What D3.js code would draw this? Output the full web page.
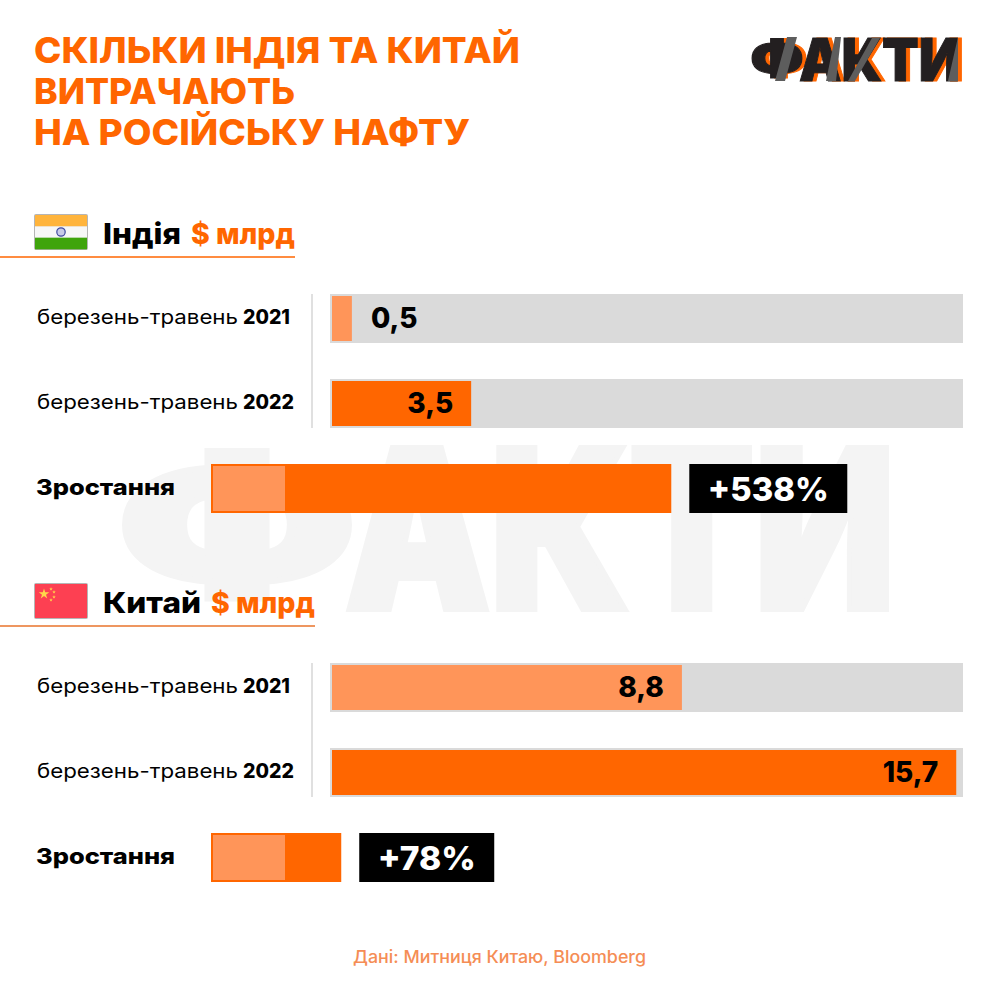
<!DOCTYPE html>
<html>
<head>
<meta charset="utf-8">
<script src="https://cdn.jsdelivr.net/npm/d3@7"></script>
<style>
html,body{margin:0;padding:0;background:#fff}
svg{display:block}
text{font-family:Inter,"Noto Sans",sans-serif}
</style>
</head>
<body>
<div id="chart"></div>
<script>
// donnees
const titleLines = ["СКІЛЬКИ ІНДІЯ ТА КИТАЙ", "ВИТРАЧАЮТЬ", "НА РОСІЙСЬКУ НАФТУ"];
const periodLabel = "березень-травень";
const years = ["2021", "2022"];
const countries = ["Індія", "Китай"];
const unitLabel = "$ млрд";
const indiaValues = [0.5, 3.5];
const chinaValues = [8.8, 15.7];
const growthLabel = "Зростання";
const growthBase = 100;           // longueur de la partie claire
const growthTotals = [622, 176];  // longueur estimee des barres de croissance
const growthTexts = ["+538%", "+78%"];
const sourceText = "Дані: Митниця Китаю, Bloomberg";

const ORANGE = "#ff6600", LIGHT = "#ff9559", TRACK = "#dadada";
const W = 1000, H = 1000;
const svg = d3.select("#chart").append("svg").attr("width", W).attr("height", H);
const fr = d3.formatLocale({decimal: ",", thousands: " ", grouping: [3], currency: ["", ""]});
const fmt = fr.format(".1f");

const x = d3.scaleLinear().domain([0, 15.87]).range([332, 963]);
const xGrowth = d3.scaleLinear().domain([0, 100]).range([211, 285]);

// texte force a une largeur donnee (la police d'origine est plus large)
function wide(g, str, x0, w, y, size, weight, fill) {
  return g.append("text").text(str)
    .attr("x", x0).attr("y", y)
    .attr("textLength", w).attr("lengthAdjust", "spacingAndGlyphs")
    .attr("font-size", size).attr("font-weight", weight).attr("fill", fill);
}

// le Ф de Inter depasse la hauteur de capitale : on le dessine a part, plus petit
function wordmark(g, f0, fw, r0, r1, base, capH, fill, bold) {
  const s = capH / 0.727;
  wide(g, "Ф", f0, fw, base - capH * 0.113, s * 0.82, 900, fill)
    .attr("stroke", fill).attr("stroke-width", bold);
  wide(g, "АКТИ", r0, r1 - r0, base, s, 900, fill)
    .attr("stroke", fill).attr("stroke-width", bold);
}

// filigrane
wordmark(svg.append("g"), 117, 240, 345, 895, 609, 161, "#f4f4f4", 6);

// titre
const titleWidths = [486, 261, 436];
titleLines.forEach((t, i) => {
  wide(svg, t, 34, titleWidths[i], 63 + i * 41, 36, 800, ORANGE);
});

// logo : couches de texte + bandes grises
const logo = svg.append("g");
wordmark(logo, 754, 54, 803, 964, 81, 43, ORANGE, 1);
wordmark(logo, 750, 54, 799, 960, 81, 43, "#231f20", 1);
const greys = [
  [[775, 81], [787, 37], [797, 37], [785, 81]],
  [[826, 81], [835, 37], [841, 37], [836, 81]],
  [[848, 81], [872, 38], [880, 38], [855, 81]],
  [[948, 81], [958, 37], [958, 81]]
];
logo.selectAll("polygon").data(greys).join("polygon")
  .attr("points", d => d.join(" "))
  .attr("fill", "#5d5d5d");

function flag(g, kind, y) {
  const fx = 35, fw = 52, fh = 34;
  g.append("rect").attr("x", fx - 1).attr("y", y - 1).attr("width", fw + 2).attr("height", fh + 2)
    .attr("rx", 2).attr("fill", "#b5b5b5");
  if (kind === 0) {
    ["#ffb43c", "#f7f7f7", "#3fa40c"].forEach((c, i) => {
      g.append("rect").attr("x", fx).attr("y", y + i * fh / 3).attr("width", fw).attr("height", fh / 3 + 0.3).attr("fill", c);
    });
    g.append("circle").attr("cx", fx + fw / 2).attr("cy", y + fh / 2).attr("r", 4.2)
      .attr("fill", "#c9cbe8").attr("stroke", "#3f4aa0").attr("stroke-width", 1.2);
  } else {
    g.append("rect").attr("x", fx).attr("y", y).attr("width", fw).attr("height", fh).attr("fill", "#fd4052");
    const star = d3.symbol().type(d3.symbolStar);
    g.append("path").attr("d", star.size(34)()).attr("transform", `translate(${fx + 9},${y + 10})`).attr("fill", "#ffd84a");
    [[16, 5], [19, 8], [19, 13], [16, 16]].forEach(p => {
      g.append("path").attr("d", star.size(4)()).attr("transform", `translate(${fx + p[0]},${y + p[1]})`).attr("fill", "#ffd84a");
    });
  }
}

function section(idx, top, values, lineEnd) {
  const g = svg.append("g");
  const yy = d3.scalePoint().domain([0, 1, 2]).range([top, top + 170]);
  const rowH = 49;

  flag(g, idx, top - 79);

  // en-tete
  const nameW = idx ? 98 : 78;
  wide(g, countries[idx], 103, nameW, top - 50, 29, 800, "#000");
  wide(g, unitLabel, 103 + nameW + 10, 104, top - 50, 29, 800, ORANGE);
  g.append("line").attr("x1", 0).attr("x2", lineEnd).attr("y1", top - 37).attr("y2", top - 37)
    .attr("stroke", idx ? "#e8732b" : ORANGE).attr("stroke-width", 1.6);

  // axe vertical
  g.append("line").attr("x1", 312).attr("x2", 312).attr("y1", top).attr("y2", top + 134)
    .attr("stroke", "#d9d9d9").attr("stroke-width", 1.6);

  // etiquettes
  years.forEach((yr, i) => {
    wide(g, periodLabel, 37, 201, yy(i) + 30, 19.5, 400, "#000");
    wide(g, yr, 243, i ? 51 : 47, yy(i) + 30, 19.5, 800, "#000");
  });

  // fond + barres
  g.selectAll("rect.track").data(values).join("rect").attr("class", "track")
    .attr("x", 330).attr("y", (d, i) => yy(i)).attr("width", 633).attr("height", rowH).attr("fill", TRACK);
  g.selectAll("rect.bar").data(values).join("rect").attr("class", "bar")
    .attr("x", x(0)).attr("y", (d, i) => yy(i) + 2)
    .attr("width", d => x(d) - x(0)).attr("height", rowH - 4)
    .attr("fill", (d, i) => i === 0 ? LIGHT : ORANGE);

  // valeurs : dehors si la barre est trop courte
  g.selectAll("text.val").data(values).join("text").attr("class", "val")
    .attr("x", d => x(d) - x(0) < 60 ? x(d) + 19 : x(d) - 18)
    .attr("text-anchor", d => x(d) - x(0) < 60 ? "start" : "end")
    .attr("y", (d, i) => yy(i) + 34)
    .attr("font-size", 28).attr("font-weight", 800).attr("fill", "#000")
    .text(d => fmt(d));

  // croissance
  const gy = yy(2);
  wide(g, growthLabel, 36, 139, gy + 31, 22, 800, "#000");
  g.append("rect").attr("x", xGrowth(0)).attr("y", gy)
    .attr("width", xGrowth(growthTotals[idx]) - xGrowth(0)).attr("height", rowH).attr("fill", ORANGE);
  g.append("rect").attr("x", xGrowth(0) + 2).attr("y", gy + 2)
    .attr("width", xGrowth(growthBase) - xGrowth(0) - 2).attr("height", rowH - 4).attr("fill", LIGHT);

  const bx = xGrowth(growthTotals[idx]) + 18;
  const bw = idx ? 135 : 158;
  g.append("rect").attr("x", bx).attr("y", gy).attr("width", bw).attr("height", rowH).attr("fill", "#000");
  const tw = idx ? 98 : 121;
  wide(g, growthTexts[idx], bx + (bw - tw) / 2, tw, gy + 37, 33, 800, "#fff");
}

section(0, 294, indiaValues, 295);
section(1, 663, chinaValues, 315);

wide(svg, sourceText, 353, 293, 963, 17, 500, "#f58d55");
</script>
</body>
</html>
